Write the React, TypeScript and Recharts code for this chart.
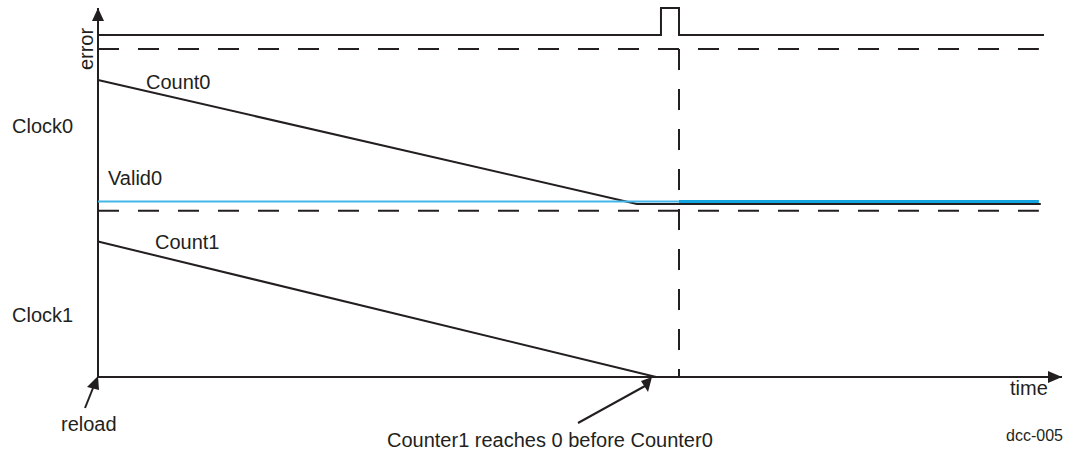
import React from "react";
import { LineChart, Line, XAxis, YAxis, ReferenceLine } from "recharts";

const INK = "#231f20";
const FONT = "'Liberation Sans', Arial, Helvetica, sans-serif";

// time runs 0..100 along the x axis, level 0..100 up the y axis
const errorSignal = [
  { t: 0, v: 92.7 },
  { t: 58.4, v: 92.7 },
  { t: 58.4, v: 100 },
  { t: 60.27, v: 100 },
  { t: 60.27, v: 92.7 },
  { t: 98.13, v: 92.7 },
];
const upperThreshold = [
  { t: 0, v: 88.9 },
  { t: 97.6, v: 88.9 },
];
const lowerThreshold = [
  { t: 0, v: 45.07 },
  { t: 97.6, v: 45.07 },
];
const errorMarker = [
  { t: 60.27, v: 88.9 },
  { t: 60.27, v: 0 },
];
const count0 = [
  { t: 0, v: 80.5 },
  { t: 55.9, v: 46.88 },
  { t: 97.8, v: 46.88 },
];
const valid0Before = [
  { t: 0, v: 47.56 },
  { t: 60.27, v: 47.56 },
];
const valid0After = [
  { t: 60.27, v: 47.56 },
  { t: 97.6, v: 47.56 },
];
const count1 = [
  { t: 0, v: 36.72 },
  { t: 57.9, v: 0 },
];

const W = 1065;
const H = 453;

function Overlay() {
  const txt = { fontFamily: FONT, fontSize: 20, fill: INK } as const;
  return (
    <svg
      width={W}
      height={H}
      style={{ position: "absolute", left: 0, top: 0, pointerEvents: "none" }}
    >
      {/* axis arrow heads */}
      <polygon points="98,8 92,21 104,21" fill={INK} />
      <polygon points="1062,377 1048,371 1048,383" fill={INK} />

      {/* callout arrows */}
      <line x1={85} y1={408} x2={93} y2={388} stroke={INK} strokeWidth={2} />
      <polygon points="98,376 87,387 99,390" fill={INK} />
      <line x1={578} y1={423} x2={645} y2={386} stroke={INK} strokeWidth={2} />
      <polygon points="652,377 641,381 648,392" fill={INK} />

      <text transform="translate(93,49) rotate(-90)" textAnchor="middle" {...txt}>
        error
      </text>
      <text x={146} y={89} {...txt}>Count0</text>
      <text x={12} y={133} {...txt}>Clock0</text>
      <text x={108} y={185} {...txt}>Valid0</text>
      <text x={155} y={249} {...txt}>Count1</text>
      <text x={12} y={322} {...txt}>Clock1</text>
      <text x={1010} y={395} {...txt}>time</text>
      <text x={61} y={431} {...txt}>reload</text>
      <text x={387} y={447} {...txt}>Counter1 reaches 0 before Counter0</text>
      <text x={1006} y={441} {...txt} fontSize={16}>dcc-005</text>
    </svg>
  );
}

export default function App() {
  const black = { stroke: INK, strokeWidth: 2, dot: false, activeDot: false, type: "linear" as const };
  return (
    <div style={{ position: "absolute", left: 0, top: 0, width: W, height: H, background: "#fff" }}>
      <LineChart width={W} height={H} margin={{ top: 8, right: 3, left: 98, bottom: 76 }}>
        <XAxis type="number" dataKey="t" domain={[0, 100]} hide />
        <YAxis type="number" dataKey="v" domain={[0, 100]} hide />
        <ReferenceLine x={0} stroke={INK} strokeWidth={2} />
        <ReferenceLine y={0} stroke={INK} strokeWidth={2} />
        <Line data={errorSignal} dataKey="v" {...black} isAnimationActive={false} />
        <Line data={upperThreshold} dataKey="v" {...black} strokeDasharray="21 19" isAnimationActive={false} />
        <Line data={lowerThreshold} dataKey="v" {...black} strokeDasharray="21 19" isAnimationActive={false} />
        <Line data={errorMarker} dataKey="v" {...black} strokeDasharray="21 19" isAnimationActive={false} />
        <Line data={count0} dataKey="v" {...black} isAnimationActive={false} />
        <Line data={count1} dataKey="v" {...black} isAnimationActive={false} />
        <Line
          data={valid0Before}
          dataKey="v"
          stroke="#45b6e8"
          strokeWidth={2}
          dot={false}
          activeDot={false}
          type="linear"
          isAnimationActive={false}
        />
        <Line
          data={valid0After}
          dataKey="v"
          stroke="#12a4de"
          strokeWidth={3}
          dot={false}
          activeDot={false}
          type="linear"
          isAnimationActive={false}
        />
      </LineChart>
      <Overlay />
    </div>
  );
}
